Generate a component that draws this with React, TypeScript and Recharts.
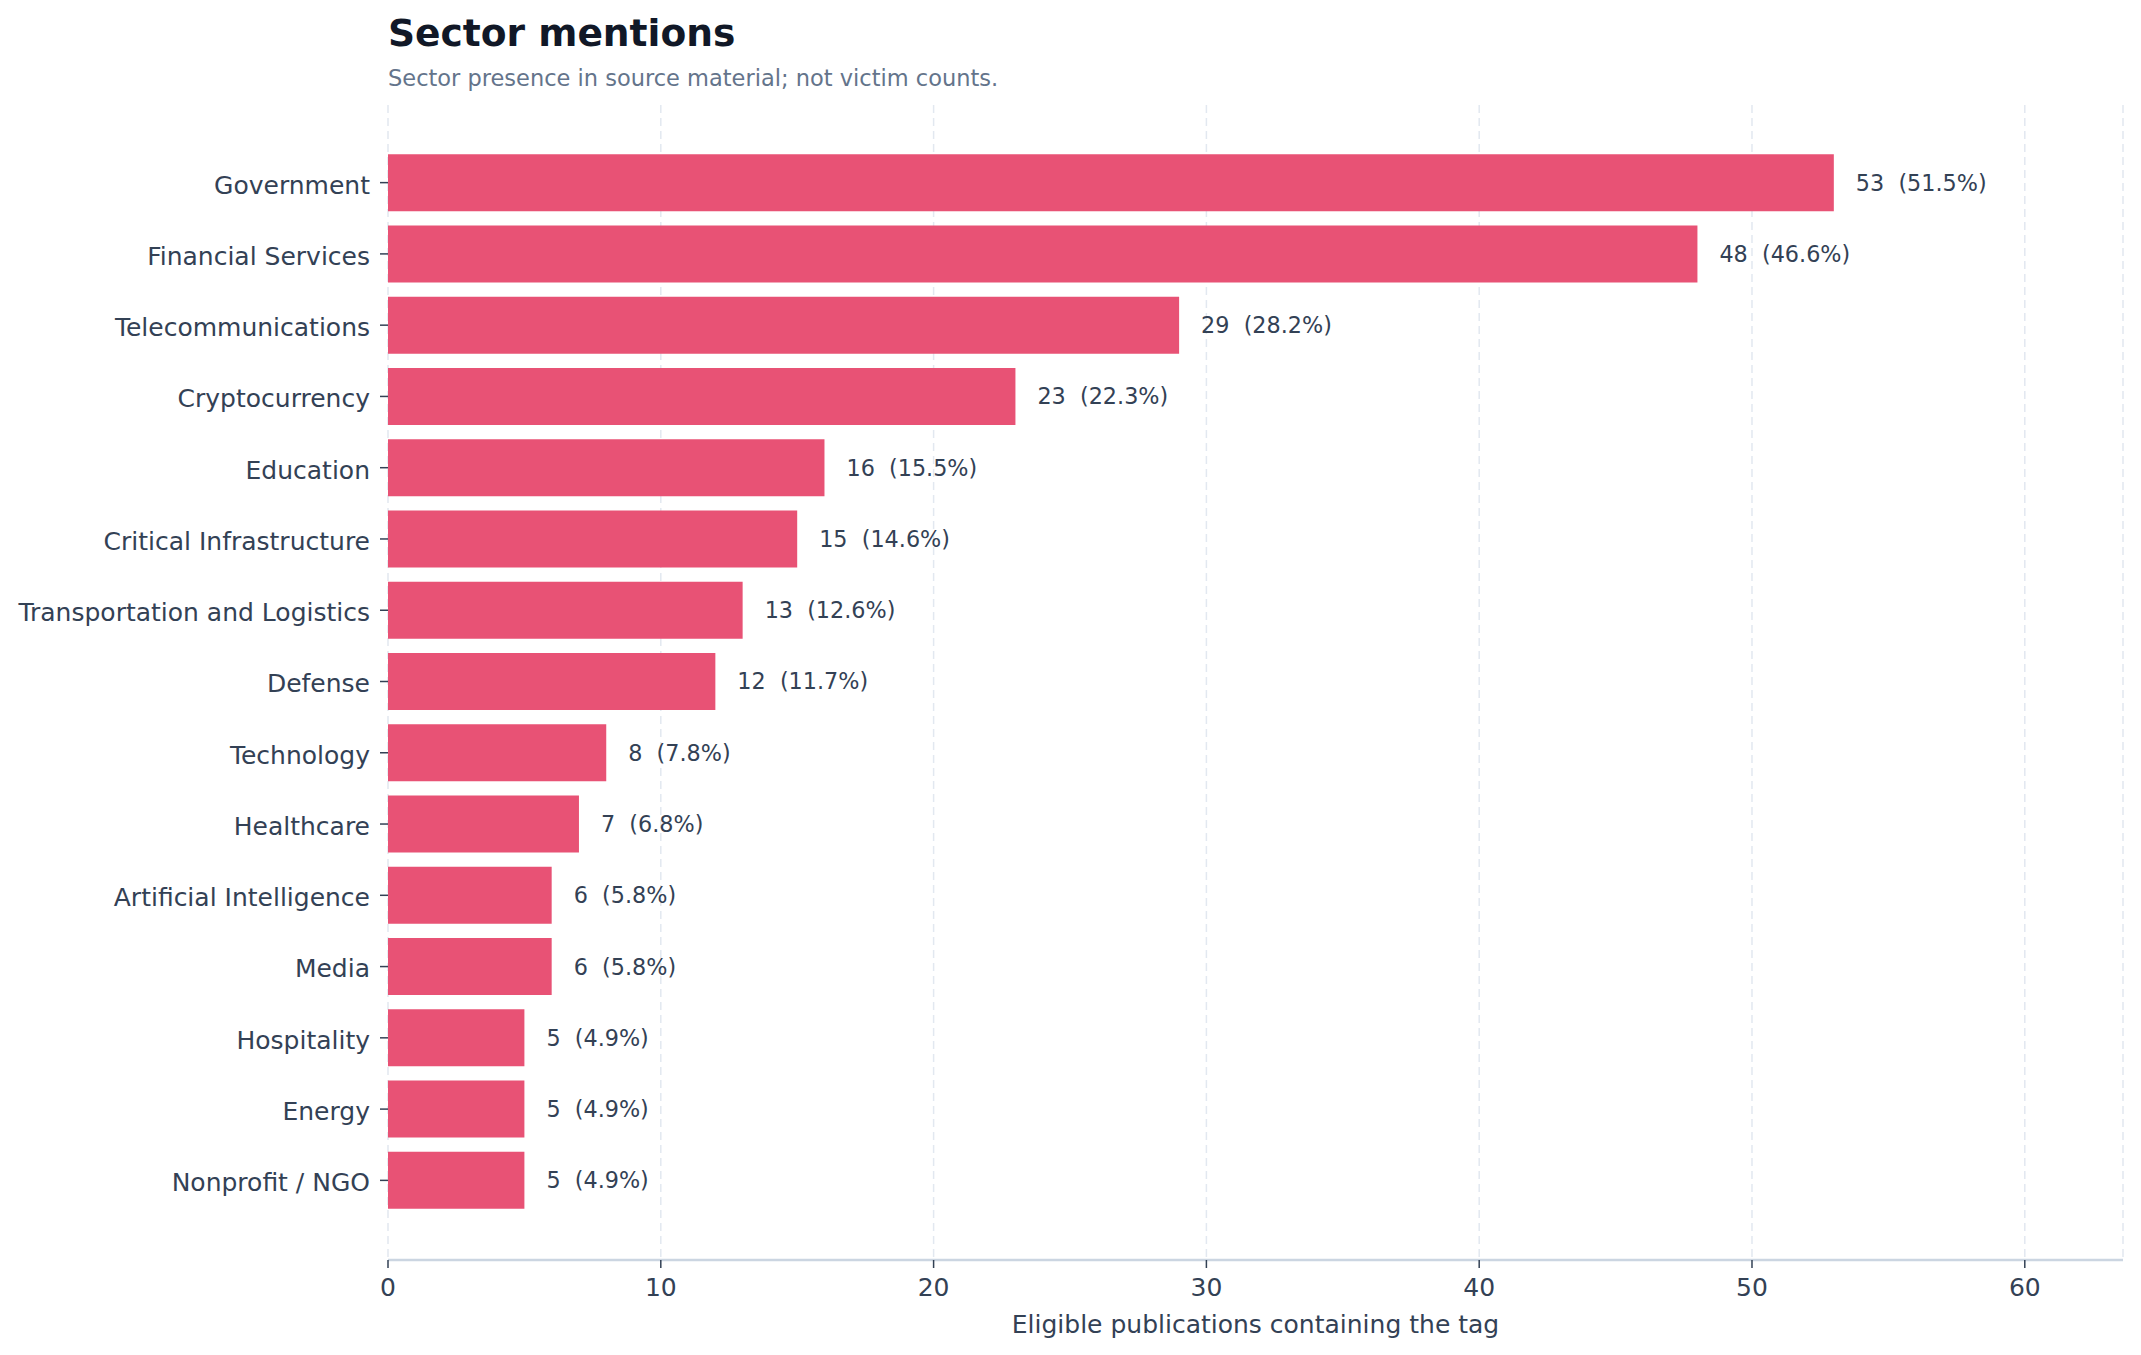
import { BarChart, Bar, XAxis, YAxis, CartesianGrid, LabelList } from 'recharts';

const sectors = [
  'Government',
  'Financial Services',
  'Telecommunications',
  'Cryptocurrency',
  'Education',
  'Critical Infrastructure',
  'Transportation and Logistics',
  'Defense',
  'Technology',
  'Healthcare',
  'Artificial Intelligence',
  'Media',
  'Hospitality',
  'Energy',
  'Nonprofit / NGO',
];
const mentions = [53, 48, 29, 23, 16, 15, 13, 12, 8, 7, 6, 6, 5, 5, 5];
const shares = ['51.5', '46.6', '28.2', '22.3', '15.5', '14.6', '12.6', '11.7', '7.8', '6.8', '5.8', '5.8', '4.9', '4.9', '4.9'];
const xTicks = [0, 10, 20, 30, 40, 50, 60];

const FONT = '"DejaVu Sans", sans-serif';
const BAR = '#e85275';
const TEXT = '#334155';

const data = sectors.map((s, i) => ({ sector: s, count: mentions[i], pct: shares[i] }));

const W = 2141;
const H = 1355;

// value + share label to the right of each bar
const ValueLabel = (props: any) => {
  const { x, y, width, height, index } = props;
  const d = data[index];
  return (
    <text
      x={x + width + 22}
      y={y + height / 2}
      dominantBaseline="central"
      fill={TEXT}
      fontSize={22.3}
      fontFamily={FONT}
      style={{ whiteSpace: 'pre' }}
    >
      {`${d.count}  (${d.pct}%)`}
    </text>
  );
};

export default function App() {
  return (
    <div style={{ position: 'relative', width: W, height: H, background: '#fff' }}>
      <style>{`body{margin:0}`}</style>
      <BarChart
        width={W}
        height={H}
        data={data}
        layout="vertical"
        margin={{ top: 105, right: 18, bottom: 65, left: 0 }}
        barCategoryGap="10%"
      >
        <CartesianGrid horizontal={false} stroke="#e2e8f0" strokeDasharray="8 5" strokeWidth={1.5} />
        <XAxis
          type="number"
          domain={[0, 63.6]}
          ticks={xTicks}
          tick={{ fill: TEXT, fontSize: 25, fontFamily: FONT }}
          axisLine={{ stroke: '#cbd5e1', strokeWidth: 2.5 }}
          tickLine={{ stroke: TEXT, strokeWidth: 1.5 }}
          tickSize={8}
          tickMargin={10}
        />
        <YAxis
          type="category"
          dataKey="sector"
          width={388}
          axisLine={false}
          tickLine={{ stroke: TEXT, strokeWidth: 1.5 }}
          tickSize={8}
          tickMargin={10}
          interval={0}
          padding={{ top: 42, bottom: 44 }}
          tick={{ fill: TEXT, fontSize: 25, fontFamily: FONT, dy: 2 }}
        />
        <Bar dataKey="count" fill={BAR} isAnimationActive={false}>
          <LabelList dataKey="count" content={ValueLabel} />
        </Bar>
      </BarChart>
      <svg width={W} height={H} style={{ position: 'absolute', left: 0, top: 0, pointerEvents: 'none' }}>
        <text x={388} y={46} fontSize={37.6} fontWeight="bold" fill="#111827" fontFamily={FONT}>
          Sector mentions
        </text>
        <text x={388} y={86} fontSize={22.5} fill="#64748b" fontFamily={FONT}>
          Sector presence in source material; not victim counts.
        </text>
        <text x={1255.5} y={1333} fontSize={25} fill={TEXT} fontFamily={FONT} textAnchor="middle">
          Eligible publications containing the tag
        </text>
      </svg>
    </div>
  );
}
